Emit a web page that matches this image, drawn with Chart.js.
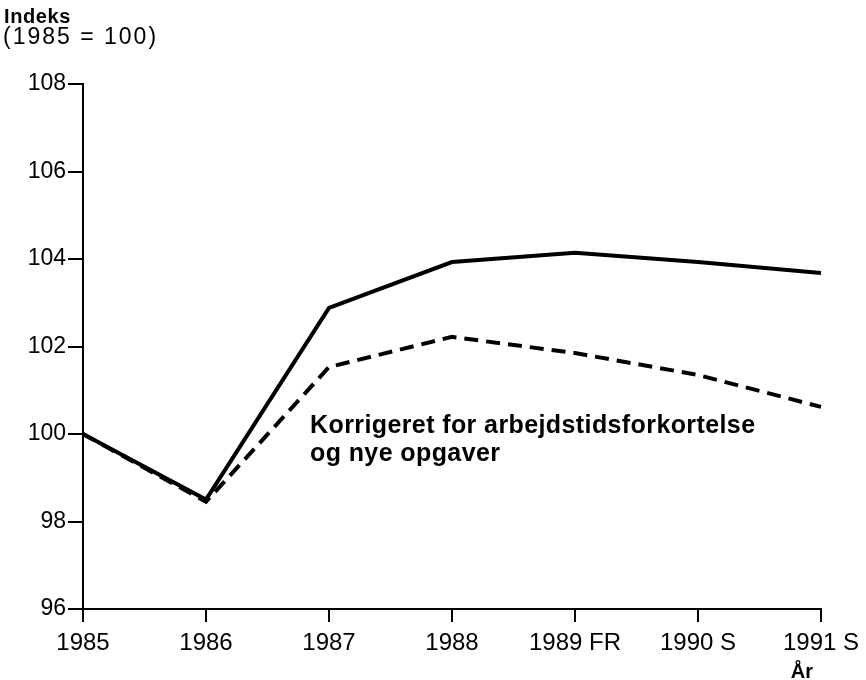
<!DOCTYPE html>
<html>
<head>
<meta charset="utf-8">
<script src="https://cdn.jsdelivr.net/npm/chart.js@4"></script>
<style>
  html, body { margin: 0; padding: 0; background: #fff; }
  #wrap { width: 866px; height: 680px; position: relative; }
</style>
</head>
<body>
<div id="wrap"><canvas id="chart" width="866" height="680"></canvas></div>
<script>
// data
const years = ["1985", "1986", "1987", "1988", "1989 FR", "1990 S", "1991 S"];
const indeks = [100, 98.5, 102.88, 103.93, 104.14, 103.93, 103.68];
const korrigeret = [100, 98.45, 101.53, 102.22, 101.85, 101.35, 100.62];
const yTicks = [96, 98, 100, 102, 104, 106, 108];

const FONT = "'Liberation Sans', Arial, sans-serif";

// extra texts: axis title, unit and the label for the dashed line
const textPlugin = {
  id: "texts",
  afterDraw(chart) {
    const ctx = chart.ctx;
    const x = chart.scales.x;
    ctx.save();
    ctx.fillStyle = "#000";
    ctx.textBaseline = "alphabetic";
    ctx.textAlign = "left";
    ctx.font = "bold 20px " + FONT;
    ctx.letterSpacing = "0.6px";
    ctx.fillText("Indeks", 4, 23);
    ctx.font = "23px " + FONT;
    ctx.letterSpacing = "2px";
    ctx.fillText("(1985 = 100)", 3, 44);

    ctx.font = "bold 25px " + FONT;
    ctx.letterSpacing = "0.4px";
    ctx.fillText("Korrigeret for arbejdstidsforkortelse", 310, 433);
    ctx.fillText("og nye opgaver", 310, 461);

    ctx.textAlign = "center";
    ctx.letterSpacing = "0px";
    ctx.font = "bold 20px " + FONT;
    ctx.fillText("År", x.getPixelForValue(6) - 19, 678);
    ctx.restore();
  }
};

new Chart(document.getElementById("chart"), {
  type: "line",
  data: {
    labels: years,
    datasets: [
      {
        label: "Indeks",
        data: indeks,
        borderColor: "#000",
        borderWidth: 4,
        pointRadius: 0,
        tension: 0,
        fill: false
      },
      {
        label: "Korrigeret for arbejdstidsforkortelse og nye opgaver",
        data: korrigeret,
        borderColor: "#000",
        borderWidth: 4,
        borderDash: [14, 8],
        pointRadius: 0,
        tension: 0,
        fill: false
      }
    ]
  },
  options: {
    responsive: false,
    animation: false,
    layout: { padding: { left: 0, right: 42, top: 84, bottom: 0 } },
    plugins: {
      legend: { display: false },
      tooltip: { enabled: false }
    },
    scales: {
      x: {
        offset: false,
        grid: { drawOnChartArea: false, drawTicks: true, tickLength: 13, color: "#000", lineWidth: 2 },
        border: { color: "#000", width: 2 },
        ticks: { color: "#000", font: { family: FONT, size: 24 }, padding: 7, maxRotation: 0, autoSkip: false },
        afterFit(scale) { scale.height = 71; }
      },
      y: {
        min: 96,
        max: 108,
        afterBuildTicks(scale) { scale.ticks = yTicks.map(v => ({ value: v })); },
        grid: { drawOnChartArea: false, drawTicks: true, tickLength: 15, color: "#000", lineWidth: 2 },
        border: { color: "#000", width: 2 },
        ticks: { color: "#000", font: { family: FONT, size: 23 }, padding: 2 },
        afterFit(scale) { scale.width = 83; }
      }
    }
  },
  plugins: [textPlugin]
});
</script>
</body>
</html>
